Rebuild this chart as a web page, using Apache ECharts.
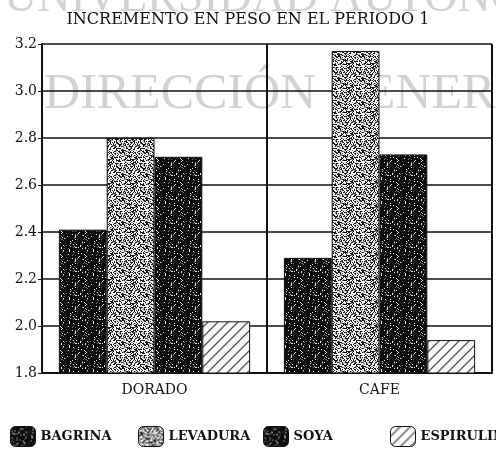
<!DOCTYPE html>
<html>
<head>
<meta charset="utf-8">
<title>Incremento en peso</title>
<script src="https://cdn.jsdelivr.net/npm/echarts@6/dist/echarts.min.js"></script>
<style>
  html, body { margin: 0; padding: 0; background: #fff; }
  #main { width: 496px; height: 453px; }
</style>
</head>
<body>
<div id="main"></div>
<script>
  // datos
  var categorias = ['DORADO', 'CAFE'];
  var nombres = ['BAGRINA', 'LEVADURA', 'SOYA', 'ESPIRULINA'];
  var bagrina = [2.41, 2.29];
  var levadura = [2.80, 3.17];
  var soya = [2.72, 2.73];
  var espirulina = [2.02, 1.94];
  var ejeY = [1.8, 2.0, 2.2, 2.4, 2.6, 2.8, 3.0, 3.2];

  // textura "impresa" sin azar: hash fijo por pixel
  function hash(x, y) {
    var h = (x * 374761393 + y * 668265263) | 0;
    h = (h ^ (h >>> 13)) * 1274126177 | 0;
    return ((h ^ (h >>> 16)) >>> 0) % 100;
  }

  function textura(tipo) {
    var c = document.createElement('canvas');
    c.width = 24; c.height = 24;
    var ctx = c.getContext('2d');
    var img = ctx.createImageData(24, 24);
    for (var y = 0; y < 24; y++) {
      for (var x = 0; x < 24; x++) {
        var v = hash(x + (tipo === 'gris' ? 50 : 0), y);
        var col;
        if (tipo === 'negro') {
          col = v < 8 ? 230 : (v < 14 ? 110 : 12);
        } else {
          col = v < 52 ? 245 : (v < 64 ? 140 : 25);
        }
        var i = (y * 24 + x) * 4;
        img.data[i] = col; img.data[i + 1] = col; img.data[i + 2] = col; img.data[i + 3] = 255;
      }
    }
    ctx.putImageData(img, 0, 0);
    return c;
  }

  function rayado() {
    var c = document.createElement('canvas');
    c.width = 10; c.height = 10;
    var ctx = c.getContext('2d');
    ctx.fillStyle = '#fafafa';
    ctx.fillRect(0, 0, 10, 10);
    ctx.strokeStyle = '#555';
    ctx.lineWidth = 1.3;
    ctx.beginPath();
    ctx.moveTo(-2, 12); ctx.lineTo(12, -2);
    ctx.moveTo(-2, 2); ctx.lineTo(2, -2);
    ctx.moveTo(8, 12); ctx.lineTo(12, 8);
    ctx.stroke();
    return c;
  }

  var colores = [
    { image: textura('negro'), repeat: 'repeat' },
    { image: textura('gris'), repeat: 'repeat' },
    { image: textura('negro'), repeat: 'repeat' },
    { image: rayado(), repeat: 'repeat' }
  ];
  var datos = [bagrina, levadura, soya, espirulina];
  var leyendaX = [5, 133, 258, 385];

  var fuente = '"DejaVu Serif", "Liberation Serif", serif';

  var series = nombres.map(function(n, k) {
    return {
      name: n,
      type: 'bar',
      data: datos[k],
      barGap: '0%',
      barCategoryGap: '15%',
      itemStyle: { color: colores[k], borderColor: '#111', borderWidth: 1 }
    };
  });

  // una leyenda por serie para respetar el espaciado fijo
  var leyendas = nombres.map(function(n, k) {
    return {
      data: [n],
      left: leyendaX[k],
      top: 421,
      itemWidth: 25,
      itemHeight: 20,
      itemGap: 0,
      textStyle: { fontFamily: fuente, fontSize: 13, fontWeight: 'bold', color: '#111' },
      itemStyle: { borderColor: '#111', borderWidth: 1 }
    };
  });

  var myChart = echarts.init(document.getElementById('main'));
  myChart.setOption({
    animation: false,
    backgroundColor: '#fff',
    title: {
      text: 'INCREMENTO EN PESO EN EL PERIODO 1',
      left: 'center',
      top: 7,
      textStyle: { fontFamily: fuente, fontSize: 16, fontWeight: 'normal', color: '#111' }
    },
    graphic: [
      { type: 'text', left: 4, top: -24, z: -1, silent: true,
        style: { text: 'UNIVERSIDAD AUTÓNOMA', font: '46px "Liberation Serif", serif', fill: '#d2d2d2' } },
      { type: 'text', left: 44, top: 70, z: -1, silent: true,
        style: { text: 'DIRECCIÓN GENERAL', font: '50px "Liberation Serif", serif', fill: '#d2d2d2' } }
    ],
    legend: leyendas,
    grid: { left: 42, right: 4, top: 44, bottom: 80 },
    xAxis: {
      type: 'category',
      data: categorias,
      axisLine: { lineStyle: { color: '#111', width: 2 } },
      axisTick: { show: false },
      splitLine: { show: true, lineStyle: { color: '#111', width: 2 } },
      axisLabel: { fontFamily: fuente, fontSize: 14, color: '#111', margin: 10 }
    },
    yAxis: {
      type: 'value',
      min: ejeY[0],
      max: ejeY[ejeY.length - 1],
      interval: 0.2,
      axisLine: { show: true, lineStyle: { color: '#111', width: 2 } },
      axisTick: { show: true, length: 4, lineStyle: { color: '#111' } },
      splitLine: { lineStyle: { color: '#111', width: 1.5 } },
      axisLabel: {
        fontFamily: fuente, fontSize: 14, color: '#111', margin: 5,
        formatter: function(v) { return v.toFixed(1); }
      }
    },
    series: series
  });
</script>
</body>
</html>
